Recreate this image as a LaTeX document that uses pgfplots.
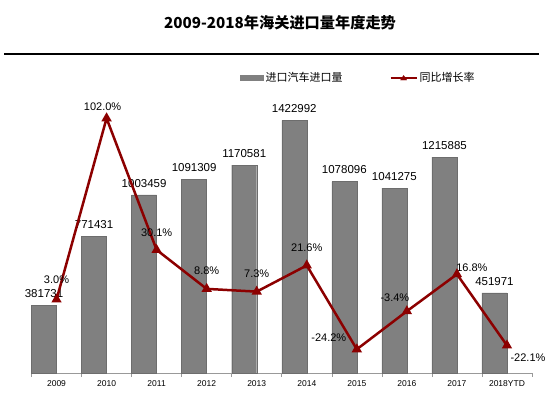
\documentclass[border=0pt]{standalone}
\usepackage{fontspec}
\setmainfont{Liberation Sans}
\newfontfamily\cjk{Noto Sans CJK SC}
\usepackage{pgfplots}
\pgfplotsset{compat=1.18}
\definecolor{barg}{RGB}{128,128,128}
\definecolor{lred}{RGB}{140,0,0}
\begin{document}
\begin{tikzpicture}[x=1pt,y=1pt]
\path[use as bounding box] (0,0) rectangle (550,394);
\node[font=\cjk\bfseries\fontsize{15.2}{18}\selectfont] at (280,371) {2009-2018年海关进口量年度走势};
\draw[line width=1.8pt] (4,340) -- (539,340);
\begin{axis}[
  at={(31.5pt,21pt)}, anchor=south west,
  width=500.5pt, height=284pt, scale only axis,
  xmin=-0.5, xmax=9.5, ymin=0, ymax=1600000,
  axis y line=none, axis x line*=bottom,
  x axis line style={draw=gray!80, line width=0.6pt},
  xtick={0,...,9},
  xticklabels={2009,2010,2011,2012,2013,2014,2015,2016,2017,2018YTD},
  major tick length=0pt,
  minor xtick={-0.5,0.5,...,9.5},
  minor tick length=4pt, tick align=outside,
  minor tick style={draw=gray!80, line width=0.6pt},
  x tick label style={font=\fontsize{8.5}{10}\selectfont, yshift=-4pt},
  clip=false,
  legend style={at={(0.4166,1.0387)}, anchor=west, draw=none, fill=none,
    legend columns=2, font=\cjk\fontsize{11}{13}\selectfont,
    inner sep=0pt, nodes={inner sep=2pt},
    /tikz/every even column/.append style={column sep=45pt}},
]
\addplot[ybar, bar width=25pt, bar shift=0pt, fill=barg, draw=barg!85!black,
  point meta=explicit symbolic, nodes near coords,
  nodes near coords style={font=\fontsize{11.5}{13}\selectfont, anchor=south, yshift=4pt, text=black},
  legend image code/.code={\fill[barg] (0pt,-2.5pt) rectangle (23pt,2.5pt);}]
  coordinates {
  (-0.25,381731)[381731]
  (0.75,771431)[771431]
  (1.75,1003459)[1003459]
  (2.75,1091309)[1091309]
  (3.75,1170581)[1170581]
  (4.75,1422992)[1422992]
  (5.75,1078096)[1078096]
  (6.75,1041275)[1041275]
  (7.75,1215885)[1215885]
  (8.75,451971)[451971]
  };
\addlegendentry{进口汽车进口量}
\addlegendimage{legend image code/.code={\draw[lred, line width=2pt] (0pt,0pt) -- (26pt,0pt); \fill[lred] (13pt,2.5pt) -- (10pt,-2pt) -- (16pt,-2pt) -- cycle;}}
\addlegendentry{同比增长率}
\end{axis}
\begin{axis}[
  at={(31.5pt,21pt)}, anchor=south west,
  width=500.5pt, height=284pt, scale only axis,
  xmin=-0.5, xmax=9.5, ymin=-37.16, ymax=118,
  axis lines=none, clip=false,
]
\addplot[lred, line width=2.5pt, mark=triangle*, mark size=3.5pt, mark options={solid, fill=lred}]
  coordinates {(0,3.0)(1,102.0)(2,30.1)(3,8.8)(4,7.3)(5,21.6)(6,-24.2)(7,-3.4)(8,16.8)(9,-22.1)};
\begin{scope}[every node/.style={font=\fontsize{11}{13}\selectfont}]
\node[xshift=0pt, yshift=20pt] at (axis cs:0,3.0) {3.0\%};
\node[xshift=-4pt, yshift=12pt] at (axis cs:1,102.0) {102.0\%};
\node[xshift=0pt, yshift=17pt] at (axis cs:2,30.1) {30.1\%};
\node[xshift=0pt, yshift=18pt] at (axis cs:3,8.8) {8.8\%};
\node[xshift=0pt, yshift=18pt] at (axis cs:4,7.3) {7.3\%};
\node[xshift=0pt, yshift=18pt] at (axis cs:5,21.6) {21.6\%};
\node[xshift=-28pt, yshift=12pt] at (axis cs:6,-24.2) {-24.2\%};
\node[xshift=-12pt, yshift=13pt] at (axis cs:7,-3.4) {-3.4\%};
\node[xshift=15pt, yshift=7pt] at (axis cs:8,16.8) {16.8\%};
\node[xshift=21pt, yshift=-12pt] at (axis cs:9,-22.1) {-22.1\%};
\end{scope}
\end{axis}
\end{tikzpicture}
\end{document}
